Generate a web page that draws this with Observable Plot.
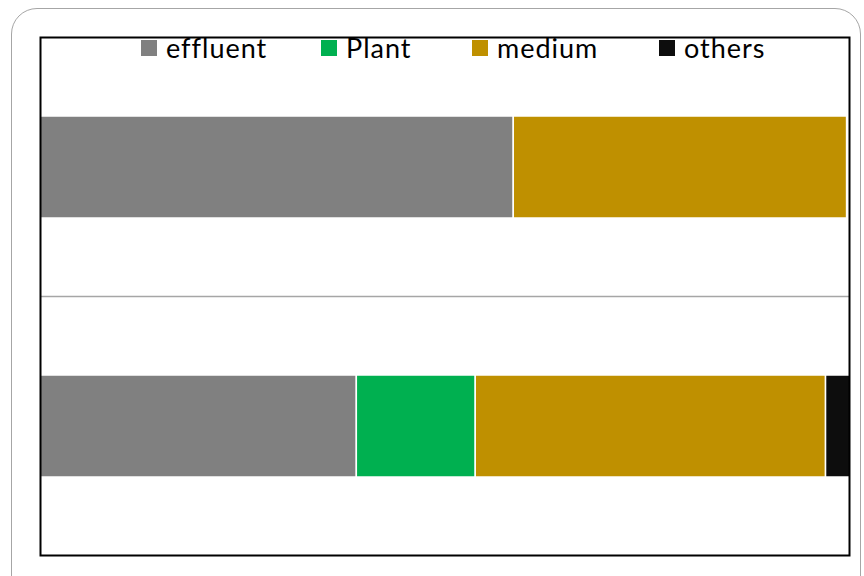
<!DOCTYPE html>
<html>
<head>
<meta charset="utf-8">
<script src="https://cdn.jsdelivr.net/npm/d3@7"></script>
<script src="https://cdn.jsdelivr.net/npm/@observablehq/plot@0.6"></script>
<style>
  html, body { margin: 0; padding: 0; background: #fff; }
  #wrap { position: relative; width: 864px; height: 576px; overflow: hidden; }
  #border { position: absolute; left: 11px; top: 8px; width: 850px; height: 640px;
            border: 1.5px solid #a6a6a6; border-radius: 26px; box-sizing: border-box; }
  #chart { position: absolute; left: 0; top: 0; }
  .leg { position: absolute; top: 33px; font-family: Lato, "Open Sans", sans-serif; font-size: 27px;
         letter-spacing: 1px; color: #000; white-space: nowrap; line-height: 30px; }
  .sw { position: absolute; top: 40px; width: 16px; height: 16px; }
</style>
</head>
<body>
<div id="wrap">
  <div id="border"></div>
  <div id="chart"></div>
</div>
<script>
// Data
const categories = ["Row 1", "Row 2"];
const components = ["effluent", "Plant", "medium", "others"];
const colors = ["#808080", "#00b050", "#bf9000", "#0d0d0d"];
const row1Values = [58.5, 0, 41.2, 0];
const row2Values = [39.1, 14.7, 43.3, 3.0];

const table = [];
[row1Values, row2Values].forEach((vals, r) => {
  vals.forEach((v, i) => table.push({row: categories[r], component: components[i], value: v}));
});

const W = 864, H = 576;
const mT = 37, mB = 21, mL = 40, mR = 15;
const step = (H - mT - mB) / categories.length;

const plot = Plot.plot({
  width: W, height: H,
  marginTop: mT, marginBottom: mB, marginLeft: mL, marginRight: mR,
  x: {domain: [0, 100], axis: null},
  y: {domain: categories, padding: 0, axis: null},
  color: {domain: components, range: colors},
  marks: [
    Plot.ruleY(categories.slice(1), {stroke: "#a6a6a6", strokeWidth: 1.5, dy: -step / 2}),
    Plot.barX(table.filter(d => d.value > 0), Plot.stackX({
      x: "value", y: "row", fill: "component", order: components,
      stroke: "#ffffff", strokeWidth: 1.5, insetTop: 79, insetBottom: 78
    })),
    Plot.frame({stroke: "#000", strokeWidth: 2})
  ],
  style: {background: "transparent", overflow: "visible"}
});
document.getElementById("chart").appendChild(plot);

// Legend (HTML overlay)
const legendSwatchX = [141, 321, 472, 659];
const wrap = document.getElementById("wrap");
components.forEach((c, i) => {
  const sw = document.createElement("div");
  sw.className = "sw";
  sw.style.left = legendSwatchX[i] + "px";
  sw.style.background = colors[i];
  wrap.appendChild(sw);
  const t = document.createElement("div");
  t.className = "leg";
  t.style.left = (legendSwatchX[i] + 25) + "px";
  t.textContent = c;
  wrap.appendChild(t);
});
</script>
</body>
</html>
